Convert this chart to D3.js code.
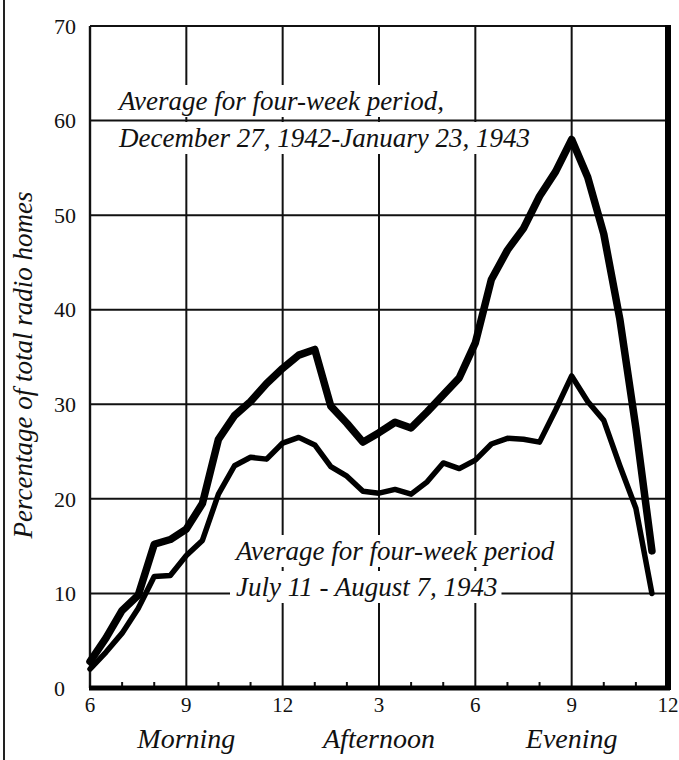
<!DOCTYPE html>
<html>
<head>
<meta charset="utf-8">
<script src="https://cdn.jsdelivr.net/npm/d3@7"></script>
<style>
  body { margin: 0; background: #fff; }
  svg { display: block; }
  text { fill: #111; }
  .it { font-style: italic; }
</style>
</head>
<body>
<svg id="chart" width="679" height="760"></svg>
<script>
// Radio listening by time of day — winter vs summer 1942/43

const hours = [6, 6.5, 7, 7.5, 8, 8.5, 9, 9.5, 10, 10.5, 11, 11.5, 12, 12.5, 13, 13.5, 14, 14.5,
               15, 15.5, 16, 16.5, 17, 17.5, 18, 18.5, 19, 19.5, 20, 20.5, 21, 21.5, 22, 22.5, 23, 23.5];

const winter = [2.8, 5.3, 8.2, 9.8, 15.2, 15.7, 16.8, 19.5, 26.3, 28.8, 30.3, 32.2, 33.8, 35.2, 35.8, 29.8, 28.0, 26.0,
                27.0, 28.1, 27.5, 29.2, 31.0, 32.8, 36.5, 43.2, 46.3, 48.6, 52.0, 54.6, 58.0, 54.0, 48.0, 39.0, 27.5, 14.5];

const summer = [2.0, 3.8, 5.8, 8.4, 11.8, 11.9, 14.0, 15.6, 20.5, 23.5, 24.4, 24.2, 25.9, 26.5, 25.7, 23.4, 22.4, 20.8,
                20.6, 21.0, 20.5, 21.8, 23.8, 23.2, 24.1, 25.8, 26.4, 26.3, 26.0, 29.4, 33.0, 30.3, 28.3, 23.5, 19.0, 10.0];

const xTicks = [6, 9, 12, 15, 18, 21, 24];
const xTickLabels = ["6", "9", "12", "3", "6", "9", "12"];
const hourTicks = [7, 8, 10, 11, 13, 14, 16, 17, 19, 20, 22, 23];
const yTicks = [0, 10, 20, 30, 40, 50, 60, 70];
const periods = [{ label: "Morning", at: 9 }, { label: "Afternoon", at: 15 }, { label: "Evening", at: 21 }];

const serif = "'Liberation Serif', 'Times New Roman', Tinos, 'Noto Serif', 'DejaVu Serif', Georgia, serif";

const svg = d3.select("#chart").attr("font-family", serif);
const x = d3.scaleLinear().domain([6, 24]).range([90, 668]);
const y = d3.scaleLinear().domain([0, 70]).range([688, 26]);

// scan border on the far left
svg.append("line").attr("x1", 4).attr("x2", 4).attr("y1", 0).attr("y2", 760)
    .attr("stroke", "#222").attr("stroke-width", 2);

// grid
const grid = svg.append("g").attr("stroke", "#111").attr("stroke-width", 2);
grid.selectAll(".h").data(yTicks.slice(1, 7)).join("line")
    .attr("x1", x(6)).attr("x2", x(24)).attr("y1", d => y(d)).attr("y2", d => y(d));
grid.selectAll(".v").data(xTicks.slice(1, 6)).join("line")
    .attr("x1", d => x(d)).attr("x2", d => x(d)).attr("y1", y(70)).attr("y2", y(0));

// frame: thin top and left, heavy bottom and right
svg.append("line").attr("x1", x(6)).attr("x2", x(24)).attr("y1", y(70)).attr("y2", y(70))
    .attr("stroke", "#111").attr("stroke-width", 2.2);
svg.append("line").attr("x1", x(6)).attr("x2", x(6)).attr("y1", y(70)).attr("y2", y(0))
    .attr("stroke", "#111").attr("stroke-width", 2.4);

// hour ticks on the bottom axis
svg.append("g").selectAll("line").data(hourTicks).join("line")
    .attr("x1", d => x(d)).attr("x2", d => x(d)).attr("y1", y(0) - 6).attr("y2", y(0))
    .attr("stroke", "#111").attr("stroke-width", 2);

// annotations with white knock-out behind them
function note(lines, x0, y0, lead, size) {
    const g = svg.append("g");
    lines.forEach((t, i) => {
        const txt = g.append("text").attr("class", "it")
            .attr("x", x0).attr("y", y0 + i * lead)
            .attr("font-size", size).text(t);
        const b = txt.node().getBBox();
        g.insert("rect", "text")
            .attr("x", b.x - 6).attr("y", b.y - 1)
            .attr("width", b.width + 10).attr("height", b.height + 2)
            .attr("fill", "#fff");
    });
}
note(["Average for four-week period,", "December 27, 1942-January 23, 1943"], 119, 110, 37, 27);
note(["Average for four-week period", "July 11 - August 7, 1943"], 236, 560, 36, 27);

// curves
const line = d3.line().x((d, i) => x(hours[i])).y(d => y(d)).curve(d3.curveLinear);
svg.append("path").datum(winter).attr("d", line)
    .attr("fill", "none").attr("stroke", "#000").attr("stroke-width", 7.5)
    .attr("stroke-linejoin", "round").attr("stroke-linecap", "round");
svg.append("path").datum(summer).attr("d", line)
    .attr("fill", "none").attr("stroke", "#000").attr("stroke-width", 5.5)
    .attr("stroke-linejoin", "round").attr("stroke-linecap", "round");

svg.append("line").attr("x1", x(6) - 1).attr("x2", x(24) + 2).attr("y1", y(0)).attr("y2", y(0))
    .attr("stroke", "#000").attr("stroke-width", 5);
svg.append("line").attr("x1", x(24)).attr("x2", x(24)).attr("y1", y(70) - 1).attr("y2", y(0) + 2)
    .attr("stroke", "#000").attr("stroke-width", 6);

// tick labels
svg.append("g").selectAll("text").data(yTicks).join("text")
    .attr("x", 54).attr("y", d => y(d)).attr("dy", "0.35em")
    .attr("font-size", 22).text(d => d);
svg.append("g").selectAll("text").data(xTicks).join("text")
    .attr("x", d => x(d)).attr("y", 712).attr("text-anchor", "middle")
    .attr("font-size", 21).text((d, i) => xTickLabels[i]);
svg.append("g").selectAll("text").data(periods).join("text")
    .attr("class", "it").attr("x", d => x(d.at)).attr("y", 748).attr("text-anchor", "middle")
    .attr("font-size", 28).text(d => d.label);

// axis title
svg.append("text").attr("class", "it")
    .attr("transform", "translate(32,365) rotate(-90)")
    .attr("text-anchor", "middle").attr("font-size", 27)
    .text("Percentage of total radio homes");
</script>
</body>
</html>
